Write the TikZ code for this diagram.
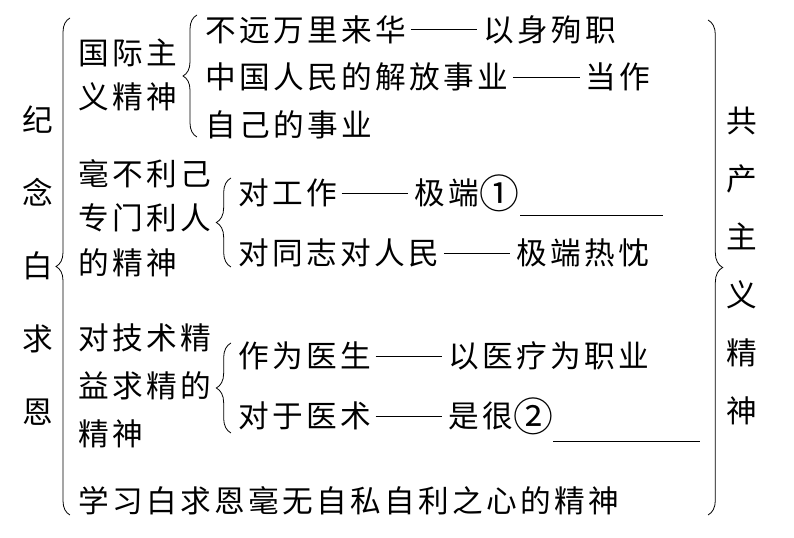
\documentclass[tikz,border=0pt]{standalone}
\usepackage{fontspec}
\newfontfamily\cjk{Noto Sans CJK SC}[LetterSpace=11]
\usetikzlibrary{decorations.pathreplacing}

% long dash and circled numbers
\newcommand\pozhe{\hspace{3.5pt}\rule[0.36em]{50pt}{0.6pt}\hspace{4.5pt}}
\newcommand\quan[1]{\raisebox{-0.12em}{\scalebox{1.3}{#1}}}

\tikzset{
  txt/.style={font=\cjk\fontsize{23}{#1}\selectfont, inner sep=0pt, anchor=west, align=left},
  txt/.default=33,
  col/.style={font=\cjk\fontsize{23}{#1}\selectfont, inner sep=0pt, align=center},
  bracel/.style={decorate, decoration={brace, amplitude=#1}, line width=0.6pt},
  bracel/.default=11pt,
  blank/.style={line width=0.7pt}
}

\begin{document}
\begin{tikzpicture}[x=0.75pt, y=-0.75pt]
    \useasboundingbox (0,0) rectangle (794,538);

    % Title columns
    \node[col=54.75] (jinian) at (38,266) {纪\\念\\白\\求\\恩};
    \node[col=43.5] (gongchan) at (742,266) {共\\产\\主\\义\\精\\神};

    % Second level
    \node[txt=33] (guoji) at (78,75) {国际主\\义精神};
    \node[txt=33.4] (haobu) at (78,218) {毫不利己\\专门利人\\的精神};
    \node[txt=36] (jishu) at (78,386) {对技术精\\益求精的\\精神};
    \node[txt] (xuexi) at (78,501) {学习白求恩毫无自私自利之心的精神};

    % Third level
    \node[txt=35.6] (buyuan) at (205,77) {不远万里来华\pozhe 以身殉职\\中国人民的解放事业\pozhe 当作\\自己的事业};
    \node[txt] (gongzuo) at (238,193) {对工作\pozhe 极端\quan{①}};
    \node[txt] (tongzhi) at (238,253) {对同志对人民\pozhe 极端热忱};
    \node[txt] (yisheng) at (238,356) {作为医生\pozhe 以医疗为职业};
    \node[txt] (yishu) at (238,416) {对于医术\pozhe 是很\quan{②}};

    % Blanks to fill in
    \draw[blank] (520,215) -- (663,215);
    \draw[blank] (553,441) -- (700,441);

    % Braces
    \draw[bracel=10.5pt] (70,515) -- (70,18);
    \draw[bracel=10.5pt] (197,137) -- (197,15);
    \draw[bracel=11pt] (231,267) -- (231,178);
    \draw[bracel=11pt] (231,433) -- (231,343);
    \draw[bracel=11pt] (708,20) -- (708,515);
\end{tikzpicture}
\end{document}
